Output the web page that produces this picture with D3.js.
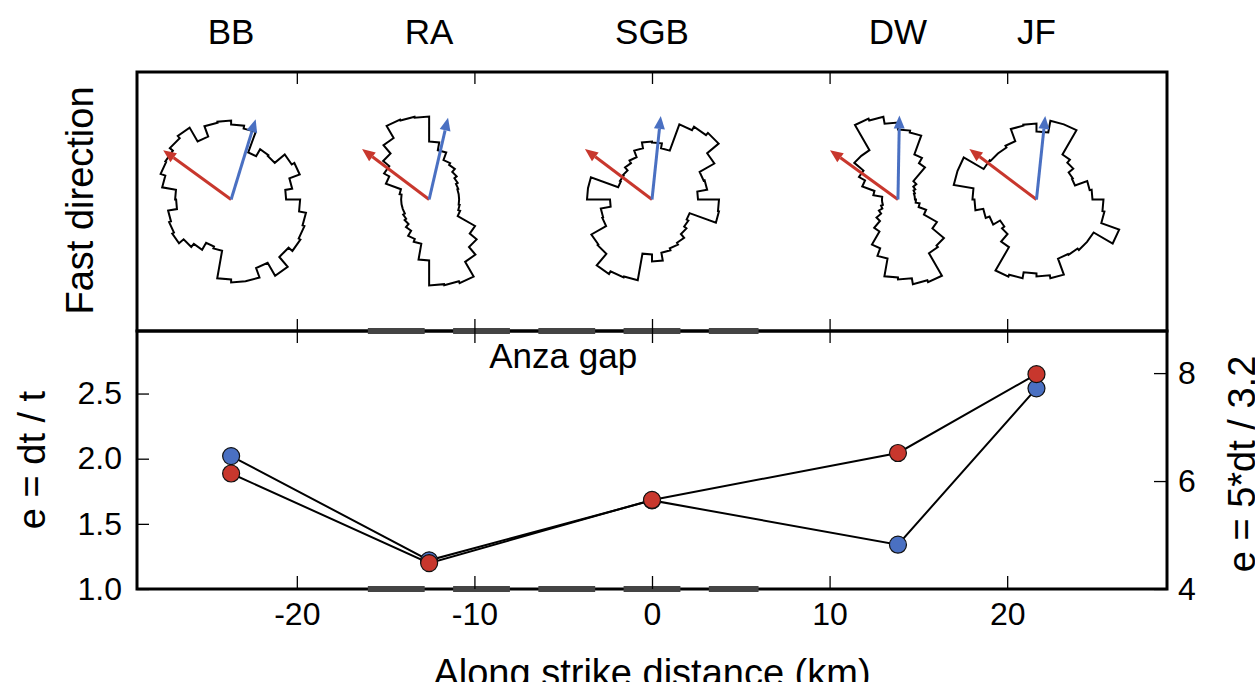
<!DOCTYPE html>
<html>
<head>
<meta charset="utf-8">
<script src="https://cdn.jsdelivr.net/npm/d3@7"></script>
<style>
body { margin: 0; background: #fff; }
svg { display: block; font-family: "Liberation Sans", Arial, Helvetica, sans-serif; }
</style>
</head>
<body>
<svg id="chart" width="1255" height="682"></svg>
<script>
// stations along strike
var stations = ["BB", "RA", "SGB", "DW", "JF"];
var stationKm = [-23.7, -12.55, 0, 13.85, 21.65];

// anisotropy, blue on left axis, red on right axis
var eBlue = [2.02, 1.22, 1.68, 1.34, 2.54];
var eRed = [6.14, 4.48, 5.65, 6.52, 7.98];

var xTicks = [-20, -10, 0, 10, 20];
var leftTicks = [1.0, 1.5, 2.0, 2.5];
var rightTicks = [4, 6, 8];

// anza gap segments (km)
var anzaGap = [[-16, -12.8], [-11.2, -8], [-6.4, -3.2], [-1.6, 1.6], [3.2, 6]];

// arrow azimuths (deg from north)
var blueAz = [17, 13, 6, 1, 6];
var redAz = [306, 307, 307, 306, 307];

// rose histograms, 36 bins of 10 deg starting at north
var roseBB = [75, 72, 50, 58, 57, 70, 73, 62, 55, 69, 76, 78, 80, 75, 88, 73, 83, 83, 80, 52, 50, 58, 62, 68, 66, 64, 55, 56, 70, 75, 76, 80, 83, 67, 78, 79];
var roseRA = [58, 50, 42, 40, 36, 33, 31, 30, 30, 30, 31, 33, 53, 62, 72, 89, 87, 86, 61, 45, 42, 36, 32, 30, 28, 28, 28, 28, 30, 46, 52, 60, 71, 85, 84, 83];
var roseSGB = [57, 52, 80, 84, 87, 72, 55, 56, 46, 67, 68, 40, 42, 45, 50, 52, 54, 62, 55, 82, 83, 86, 71, 70, 53, 52, 42, 65, 65, 36, 37, 38, 42, 45, 52, 58];
var roseDW = [70, 68, 48, 42, 24, 20, 18, 17, 17, 18, 22, 30, 45, 60, 62, 88, 86, 80, 78, 60, 52, 37, 28, 22, 18, 16, 16, 16, 25, 38, 45, 57, 57, 86, 84, 77];
var roseJF = [68, 80, 80, 52, 48, 42, 41, 54, 56, 67, 69, 88, 66, 66, 64, 63, 80, 77, 74, 80, 82, 55, 45, 42, 50, 54, 62, 64, 84, 84, 61, 60, 60, 62, 75, 76];
var roses = [roseBB, roseRA, roseSGB, roseDW, roseJF];

var pLeft = 137, pRight = 1167, pTop = 72, pMid = 331, pBottom = 589;
var red = "#c8372d", blue = "#4a70c2", dashGray = "#444";
var arrowLen = 84;

var svg = d3.select("#chart");

var xScale = d3.scaleLinear().domain([-29, 29]).range([pLeft, pRight]);
var yLeft = d3.scaleLinear().domain([1, 2.98]).range([pBottom, pMid]);
var yRight = d3.scaleLinear().domain([4, 8.78]).range([pBottom, pMid]);
var rScale = d3.scaleLinear().domain([0, 100]).range([0, 100]);
var roseY = (pTop + pMid) / 2 - 2;
var binW = 360 / 36;

// frames
svg.append("rect")
    .attr("x", pLeft).attr("y", pTop)
    .attr("width", pRight - pLeft).attr("height", pMid - pTop)
    .attr("fill", "none").attr("stroke", "#000").attr("stroke-width", 3);
svg.append("rect")
    .attr("x", pLeft).attr("y", pMid)
    .attr("width", pRight - pLeft).attr("height", pBottom - pMid)
    .attr("fill", "none").attr("stroke", "#000").attr("stroke-width", 3);

// anza gap dashes on both lines
[pMid, pBottom].forEach(function (yy) {
    svg.append("g").selectAll("line")
        .data(anzaGap)
        .enter().append("line")
        .attr("x1", function (d) { return xScale(d[0]); })
        .attr("x2", function (d) { return xScale(d[1]); })
        .attr("y1", yy).attr("y2", yy)
        .attr("stroke", dashGray).attr("stroke-width", 6);
});

var styleAxis = function (g, size) {
    g.select(".domain").remove();
    g.attr("font-family", null).attr("font-size", size);
    g.selectAll(".tick line").attr("stroke", "#000").attr("stroke-width", 1.3);
    g.selectAll(".tick text").attr("fill", "#000");
};

// tick-only axes on panel edges
svg.append("g").attr("transform", `translate(0,${pTop})`)
    .call(d3.axisTop(xScale).tickValues(xTicks).tickSizeInner(-12).tickSizeOuter(0).tickFormat(""))
    .call(styleAxis, 0);
svg.append("g").attr("transform", `translate(0,${pMid})`)
    .call(d3.axisBottom(xScale).tickValues(xTicks).tickSizeInner(-12).tickSizeOuter(0).tickFormat(""))
    .call(styleAxis, 0);
svg.append("g").attr("transform", `translate(0,${pMid})`)
    .call(d3.axisTop(xScale).tickValues(xTicks).tickSizeInner(-12).tickSizeOuter(0).tickFormat(""))
    .call(styleAxis, 0);

svg.append("g").attr("transform", `translate(0,${pBottom})`)
    .call(d3.axisBottom(xScale).tickValues(xTicks).tickSizeInner(-13).tickSizeOuter(0).tickPadding(13)
        .tickFormat(function (d) { return String(d); }))
    .call(styleAxis, 32);
svg.append("g").attr("transform", `translate(${pLeft},0)`)
    .call(d3.axisLeft(yLeft).tickValues(leftTicks).tickSizeInner(-12).tickSizeOuter(0).tickPadding(15)
        .tickFormat(d3.format(".1f")))
    .call(styleAxis, 32);
svg.append("g").attr("transform", `translate(${pRight},0)`)
    .call(d3.axisRight(yRight).tickValues(rightTicks).tickSizeInner(-13).tickSizeOuter(0).tickPadding(11)
        .tickFormat(d3.format("d")))
    .call(styleAxis, 32);

// rose diagrams
var roseLine = d3.lineRadial()
    .angle(function (d) { return d[0] * Math.PI / 180; })
    .radius(function (d) { return rScale(d[1]); })
    .curve(d3.curveLinearClosed);

var drawArrow = function (g, az, color) {
    var a = az * Math.PI / 180;
    var ux = Math.sin(a), uy = -Math.cos(a);
    var len = rScale(arrowLen), head = 13, hw = 5.5;
    var bx = ux * (len - head), by = uy * (len - head);
    g.append("line")
        .attr("x1", 0).attr("y1", 0)
        .attr("x2", bx).attr("y2", by)
        .attr("stroke", color).attr("stroke-width", 3);
    var p = d3.path();
    p.moveTo(ux * len, uy * len);
    p.lineTo(bx - uy * hw, by + ux * hw);
    p.lineTo(bx + uy * hw, by - ux * hw);
    p.closePath();
    g.append("path").attr("d", p.toString()).attr("fill", color);
};

stations.forEach(function (name, i) {
    var g = svg.append("g")
        .attr("transform", `translate(${xScale(stationKm[i])},${roseY})`);
    var pts = [];
    roses[i].forEach(function (r, k) {
        pts.push([k * binW, r]);
        pts.push([(k + 1) * binW, r]);
    });
    g.append("path")
        .attr("d", roseLine(pts))
        .attr("fill", "none")
        .attr("stroke", "#000")
        .attr("stroke-width", 2)
        .attr("stroke-linejoin", "miter");
    drawArrow(g, redAz[i], red);
    drawArrow(g, blueAz[i], blue);

    svg.append("text")
        .attr("x", xScale(stationKm[i]))
        .attr("y", 44)
        .attr("font-size", 35)
        .attr("text-anchor", "middle")
        .text(name);
});

// lines and points
var blueLine = d3.line()
    .x(function (d, i) { return xScale(stationKm[i]); })
    .y(function (d) { return yLeft(d); });
var redLine = d3.line()
    .x(function (d, i) { return xScale(stationKm[i]); })
    .y(function (d) { return yRight(d); });

svg.append("path").attr("d", blueLine(eBlue))
    .attr("fill", "none").attr("stroke", "#000").attr("stroke-width", 2);
svg.append("path").attr("d", redLine(eRed))
    .attr("fill", "none").attr("stroke", "#000").attr("stroke-width", 2);

svg.append("g").selectAll("circle")
    .data(eBlue)
    .enter().append("circle")
    .attr("cx", function (d, i) { return xScale(stationKm[i]); })
    .attr("cy", function (d) { return yLeft(d); })
    .attr("r", 8.5)
    .attr("fill", blue).attr("stroke", "#111").attr("stroke-width", 1.2);
svg.append("g").selectAll("circle")
    .data(eRed)
    .enter().append("circle")
    .attr("cx", function (d, i) { return xScale(stationKm[i]); })
    .attr("cy", function (d) { return yRight(d); })
    .attr("r", 8.5)
    .attr("fill", red).attr("stroke", "#111").attr("stroke-width", 1.2);

// labels
svg.append("text")
    .attr("x", xScale((anzaGap[0][0] + anzaGap[anzaGap.length - 1][1]) / 2))
    .attr("y", 368)
    .attr("font-size", 35)
    .attr("text-anchor", "middle")
    .text("Anza gap");

svg.append("text")
    .attr("transform", `translate(93,${(pTop + pMid) / 2 - 1}) rotate(-90)`)
    .attr("font-size", 38)
    .attr("text-anchor", "middle")
    .text("Fast direction");

svg.append("text")
    .attr("transform", `translate(45,${(pMid + pBottom) / 2}) rotate(-90)`)
    .attr("font-size", 38)
    .attr("text-anchor", "middle")
    .text("e = dt / t");

svg.append("text")
    .attr("transform", `translate(1255,${(pMid + pBottom) / 2 + 4}) rotate(-90)`)
    .attr("font-size", 38)
    .attr("text-anchor", "middle")
    .text("e = 5*dt / 3.2");

svg.append("text")
    .attr("x", (pLeft + pRight) / 2)
    .attr("y", 686)
    .attr("font-size", 38)
    .attr("text-anchor", "middle")
    .text("Along strike distance (km)");
</script>
</body>
</html>
